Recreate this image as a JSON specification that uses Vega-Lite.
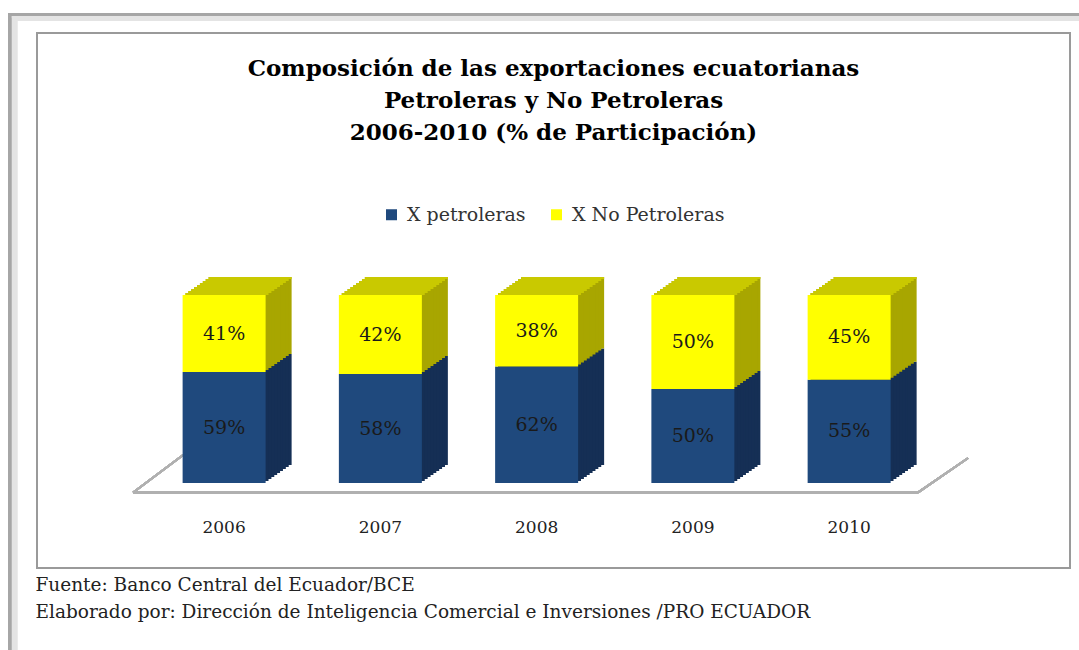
{
  "$schema": "https://vega.github.io/schema/vega-lite/v6.json",
  "width": 1033,
  "height": 535,
  "autosize": {"type": "none"},
  "padding": {"left": 37, "top": 33, "right": 9, "bottom": 82},
  "background": "white",
  "config": {
    "view": {"stroke": "#9a9a9a", "strokeWidth": 2},
    "font": "DejaVu Serif"
  },
  "title": {
    "text": ["Composición de las exportaciones ecuatorianas", "Petroleras y No Petroleras", "2006-2010 (% de Participación)"],
    "font": "DejaVu Serif",
    "fontSize": 23,
    "fontWeight": "bold",
    "color": "#000000",
    "anchor": "middle",
    "frame": "group",
    "offset": -132,
    "lineHeight": 32
  },
  "data": {
    "values": [
      {"year": "2006", "serie": "X petroleras", "v": 0.59},
      {"year": "2006", "serie": "X No Petroleras", "v": 0.41},
      {"year": "2007", "serie": "X petroleras", "v": 0.58},
      {"year": "2007", "serie": "X No Petroleras", "v": 0.42},
      {"year": "2008", "serie": "X petroleras", "v": 0.62},
      {"year": "2008", "serie": "X No Petroleras", "v": 0.38},
      {"year": "2009", "serie": "X petroleras", "v": 0.50},
      {"year": "2009", "serie": "X No Petroleras", "v": 0.50},
      {"year": "2010", "serie": "X petroleras", "v": 0.55},
      {"year": "2010", "serie": "X No Petroleras", "v": 0.45}
    ]
  },
  "transform": [
    {"stack": "v", "groupby": ["year"], "sort": [{"field": "serie", "order": "descending"}], "as": ["y0", "y1"]},
    {"calculate": "(datum.y0 + datum.y1) / 2", "as": "ym"}
  ],
  "layer": [
    {
      "mark": {"type": "rule", "color": "#b0b0b0", "strokeWidth": 3, "xOffset": -91, "x2Offset": 69},
      "encoding": {
        "x": {"datum": "2006", "type": "nominal", "bandPosition": 0.5, "scale": {"paddingInner": 0.389, "paddingOuter": 1, "align": 0.446}, "axis": {"title": ["Fuente: Banco Central del Ecuador/BCE", "Elaborado por: Dirección de Inteligencia Comercial e Inversiones /PRO ECUADOR"], "titleFont": "DejaVu Serif", "titleFontSize": 18.5, "titleFontWeight": "normal", "titleColor": "#222222", "titleAlign": "left", "titleBaseline": "top", "titleX": -2, "titleY": 59, "titleLineHeight": 27, "offset": -52, "domain": false, "ticks": false, "labelPadding": 3, "labelAngle": 0, "labelFont": "DejaVu Serif", "labelFontSize": 17, "labelColor": "#222222"}},
        "x2": {"datum": "2010"},
        "y": {"datum": -0.05, "type": "quantitative", "scale": {"domain": [-0.452, 2.394], "nice": false, "zero": false}, "axis": null}
      }
    },
    {
      "mark": {"type": "rule", "color": "#b0b0b0", "strokeWidth": 2, "xOffset": -91, "x2Offset": -41},
      "encoding": {
        "x": {"datum": "2006", "type": "nominal", "bandPosition": 0.5},
        "x2": {"datum": "2006"},
        "y": {"datum": -0.05, "type": "quantitative"},
        "y2": {"datum": 0.149}
      }
    },
    {
      "mark": {"type": "rule", "color": "#b0b0b0", "strokeWidth": 2, "xOffset": 69, "x2Offset": 119},
      "encoding": {
        "x": {"datum": "2010", "type": "nominal", "bandPosition": 0.5},
        "x2": {"datum": "2010"},
        "y": {"datum": -0.05, "type": "quantitative"},
        "y2": {"datum": 0.133}
      }
    },
    {
      "mark": {"type": "rule", "color": "#e4e4e4", "strokeWidth": 6, "clip": false, "xOffset": -212, "x2Offset": 230},
      "encoding": {
        "x": {"datum": "2006", "type": "nominal", "bandPosition": 0.5},
        "x2": {"datum": "2010"},
        "y": {"datum": 2.474, "type": "quantitative"}
      }
    },
    {
      "mark": {"type": "rule", "color": "#e4e4e4", "strokeWidth": 6, "clip": false, "xOffset": -210, "x2Offset": -210, "y2Offset": 82},
      "encoding": {
        "x": {"datum": "2006", "type": "nominal", "bandPosition": 0.5},
        "x2": {"datum": "2006"},
        "y": {"datum": 2.474, "type": "quantitative"},
        "y2": {"datum": -0.452}
      }
    },
    {
      "mark": {"type": "rule", "color": "#a6a6a6", "strokeWidth": 3, "clip": false, "xOffset": -216, "x2Offset": 230},
      "encoding": {
        "x": {"datum": "2006", "type": "nominal", "bandPosition": 0.5},
        "x2": {"datum": "2010"},
        "y": {"datum": 2.492, "type": "quantitative"}
      }
    },
    {
      "mark": {"type": "rule", "color": "#a6a6a6", "strokeWidth": 3, "clip": false, "xOffset": -214.5, "x2Offset": -214.5, "y2Offset": 82},
      "encoding": {
        "x": {"datum": "2006", "type": "nominal", "bandPosition": 0.5},
        "x2": {"datum": "2006"},
        "y": {"datum": 2.492, "type": "quantitative"},
        "y2": {"datum": -0.452}
      }
    },
    {"mark": {"type": "bar", "width": 83, "xOffset": 26, "yOffset": -18, "y2Offset": -18}, "encoding": {"x": {"field": "year", "type": "nominal"}, "y": {"field": "y1", "type": "quantitative"}, "y2": {"field": "y0"}, "color": {"condition": {"test": "datum.serie == 'X petroleras'", "value": "#152f55"}, "value": "#a8a600"}}},
    {"mark": {"type": "bar", "width": 83, "xOffset": 23.11, "yOffset": -16, "y2Offset": -16}, "encoding": {"x": {"field": "year", "type": "nominal"}, "y": {"field": "y1", "type": "quantitative"}, "y2": {"field": "y0"}, "color": {"condition": {"test": "datum.serie == 'X petroleras'", "value": "#152f55"}, "value": "#a8a600"}}},
    {"mark": {"type": "bar", "width": 83, "xOffset": 20.22, "yOffset": -14, "y2Offset": -14}, "encoding": {"x": {"field": "year", "type": "nominal"}, "y": {"field": "y1", "type": "quantitative"}, "y2": {"field": "y0"}, "color": {"condition": {"test": "datum.serie == 'X petroleras'", "value": "#152f55"}, "value": "#a8a600"}}},
    {"mark": {"type": "bar", "width": 83, "xOffset": 17.33, "yOffset": -12, "y2Offset": -12}, "encoding": {"x": {"field": "year", "type": "nominal"}, "y": {"field": "y1", "type": "quantitative"}, "y2": {"field": "y0"}, "color": {"condition": {"test": "datum.serie == 'X petroleras'", "value": "#152f55"}, "value": "#a8a600"}}},
    {"mark": {"type": "bar", "width": 83, "xOffset": 14.44, "yOffset": -10, "y2Offset": -10}, "encoding": {"x": {"field": "year", "type": "nominal"}, "y": {"field": "y1", "type": "quantitative"}, "y2": {"field": "y0"}, "color": {"condition": {"test": "datum.serie == 'X petroleras'", "value": "#152f55"}, "value": "#a8a600"}}},
    {"mark": {"type": "bar", "width": 83, "xOffset": 11.56, "yOffset": -8, "y2Offset": -8}, "encoding": {"x": {"field": "year", "type": "nominal"}, "y": {"field": "y1", "type": "quantitative"}, "y2": {"field": "y0"}, "color": {"condition": {"test": "datum.serie == 'X petroleras'", "value": "#152f55"}, "value": "#a8a600"}}},
    {"mark": {"type": "bar", "width": 83, "xOffset": 8.67, "yOffset": -6, "y2Offset": -6}, "encoding": {"x": {"field": "year", "type": "nominal"}, "y": {"field": "y1", "type": "quantitative"}, "y2": {"field": "y0"}, "color": {"condition": {"test": "datum.serie == 'X petroleras'", "value": "#152f55"}, "value": "#a8a600"}}},
    {"mark": {"type": "bar", "width": 83, "xOffset": 5.78, "yOffset": -4, "y2Offset": -4}, "encoding": {"x": {"field": "year", "type": "nominal"}, "y": {"field": "y1", "type": "quantitative"}, "y2": {"field": "y0"}, "color": {"condition": {"test": "datum.serie == 'X petroleras'", "value": "#152f55"}, "value": "#a8a600"}}},
    {"mark": {"type": "bar", "width": 83, "xOffset": 2.89, "yOffset": -2, "y2Offset": -2}, "encoding": {"x": {"field": "year", "type": "nominal"}, "y": {"field": "y1", "type": "quantitative"}, "y2": {"field": "y0"}, "color": {"condition": {"test": "datum.serie == 'X petroleras'", "value": "#152f55"}, "value": "#a8a600"}}},
    {"transform": [{"filter": "datum.serie == 'X No Petroleras'"}], "mark": {"type": "bar", "width": 83, "color": "#c9c900", "xOffset": 26, "yOffset": -18, "y2Offset": -16}, "encoding": {"x": {"field": "year", "type": "nominal"}, "y": {"field": "y1", "type": "quantitative"}, "y2": {"field": "y1"}}},
    {"transform": [{"filter": "datum.serie == 'X No Petroleras'"}], "mark": {"type": "bar", "width": 83, "color": "#c9c900", "xOffset": 23.11, "yOffset": -16, "y2Offset": -14}, "encoding": {"x": {"field": "year", "type": "nominal"}, "y": {"field": "y1", "type": "quantitative"}, "y2": {"field": "y1"}}},
    {"transform": [{"filter": "datum.serie == 'X No Petroleras'"}], "mark": {"type": "bar", "width": 83, "color": "#c9c900", "xOffset": 20.22, "yOffset": -14, "y2Offset": -12}, "encoding": {"x": {"field": "year", "type": "nominal"}, "y": {"field": "y1", "type": "quantitative"}, "y2": {"field": "y1"}}},
    {"transform": [{"filter": "datum.serie == 'X No Petroleras'"}], "mark": {"type": "bar", "width": 83, "color": "#c9c900", "xOffset": 17.33, "yOffset": -12, "y2Offset": -10}, "encoding": {"x": {"field": "year", "type": "nominal"}, "y": {"field": "y1", "type": "quantitative"}, "y2": {"field": "y1"}}},
    {"transform": [{"filter": "datum.serie == 'X No Petroleras'"}], "mark": {"type": "bar", "width": 83, "color": "#c9c900", "xOffset": 14.44, "yOffset": -10, "y2Offset": -8}, "encoding": {"x": {"field": "year", "type": "nominal"}, "y": {"field": "y1", "type": "quantitative"}, "y2": {"field": "y1"}}},
    {"transform": [{"filter": "datum.serie == 'X No Petroleras'"}], "mark": {"type": "bar", "width": 83, "color": "#c9c900", "xOffset": 11.56, "yOffset": -8, "y2Offset": -6}, "encoding": {"x": {"field": "year", "type": "nominal"}, "y": {"field": "y1", "type": "quantitative"}, "y2": {"field": "y1"}}},
    {"transform": [{"filter": "datum.serie == 'X No Petroleras'"}], "mark": {"type": "bar", "width": 83, "color": "#c9c900", "xOffset": 8.67, "yOffset": -6, "y2Offset": -4}, "encoding": {"x": {"field": "year", "type": "nominal"}, "y": {"field": "y1", "type": "quantitative"}, "y2": {"field": "y1"}}},
    {"transform": [{"filter": "datum.serie == 'X No Petroleras'"}], "mark": {"type": "bar", "width": 83, "color": "#c9c900", "xOffset": 5.78, "yOffset": -4, "y2Offset": -2}, "encoding": {"x": {"field": "year", "type": "nominal"}, "y": {"field": "y1", "type": "quantitative"}, "y2": {"field": "y1"}}},
    {"transform": [{"filter": "datum.serie == 'X No Petroleras'"}], "mark": {"type": "bar", "width": 83, "color": "#c9c900", "xOffset": 2.89, "yOffset": -2, "y2Offset": 0}, "encoding": {"x": {"field": "year", "type": "nominal"}, "y": {"field": "y1", "type": "quantitative"}, "y2": {"field": "y1"}}},
    {
      "mark": {"type": "bar", "width": 83},
      "encoding": {
        "x": {"field": "year", "type": "nominal"},
        "y": {"field": "y1", "type": "quantitative"},
        "y2": {"field": "y0"},
        "color": {"field": "serie", "type": "nominal", "scale": {"domain": ["X petroleras", "X No Petroleras"], "range": ["#1f497d", "#ffff00"]}, "legend": {"orient": "none", "legendX": 345, "legendY": 172, "direction": "horizontal", "title": null, "symbolType": "square", "symbolSize": 121, "symbolStrokeWidth": 0, "labelFont": "DejaVu Serif", "labelFontSize": 19, "labelColor": "#333333", "columnPadding": 21, "labelOffset": 6, "padding": 0}}
      }
    },
    {
      "mark": {"type": "text", "font": "DejaVu Serif", "fontSize": 19, "color": "#1a1a1a"},
      "encoding": {
        "x": {"field": "year", "type": "nominal"},
        "y": {"field": "ym", "type": "quantitative"},
        "text": {"field": "v", "type": "quantitative", "format": ".0%"}
      }
    }
  ]
}
